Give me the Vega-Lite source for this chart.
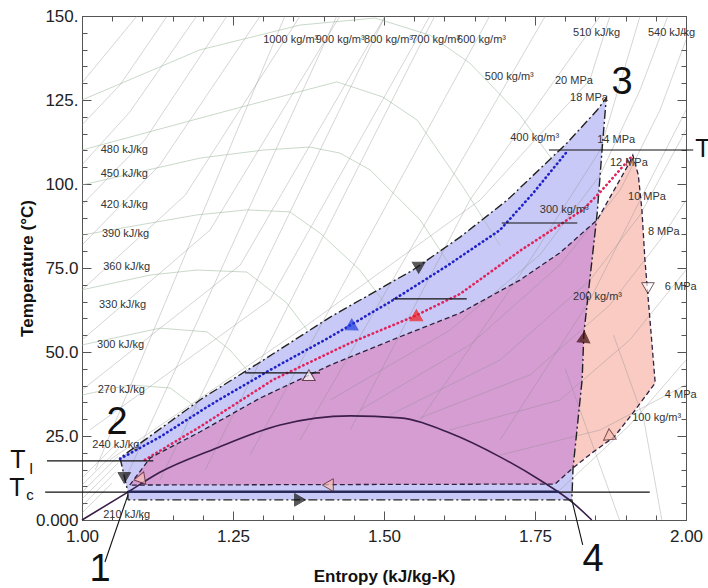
{
"$schema": "https://vega.github.io/schema/vega-lite/v6.json",
"width": 604, "height": 504,
"autosize": {"type": "none"},
"padding": {"left": 82, "top": 16, "right": 22, "bottom": 68},
"background": "white",
"config": {"font": "Liberation Sans", "view": {"stroke": "#555", "strokeWidth": 1}},
"datasets": {
"blue": [
{"i":1,"s":1.076,"T":6.0},{"i":2,"s":1.076,"T":8.3},{"i":3,"s":1.063,"T":18.5},{"i":4,"s":1.200,"T":36.3},{"i":5,"s":1.295,"T":47.0},{"i":6,"s":1.411,"T":60.4},{"i":7,"s":1.548,"T":74.4},{"i":8,"s":1.626,"T":84.2},{"i":9,"s":1.704,"T":95.2},{"i":10,"s":1.803,"T":112.2},{"i":11,"s":1.853,"T":122.0},{"i":12,"s":1.868,"T":125.6},{"i":13,"s":1.861,"T":110.1},{"i":14,"s":1.853,"T":91.4},{"i":15,"s":1.831,"T":55.7},{"i":16,"s":1.828,"T":41.7},{"i":17,"s":1.813,"T":15.5},{"i":18,"s":1.811,"T":6.0},{"i":19,"s":1.076,"T":6.0}
],
"salmon": [
{"i":1,"s":1.079,"T":10.4},{"i":2,"s":1.113,"T":18.5},{"i":3,"s":1.195,"T":26.2},{"i":4,"s":1.295,"T":36.3},{"i":5,"s":1.411,"T":46.1},{"i":6,"s":1.526,"T":54.5},{"i":7,"s":1.626,"T":61.6},{"i":8,"s":1.725,"T":71.4},{"i":9,"s":1.791,"T":79.5},{"i":10,"s":1.853,"T":89.3},{"i":11,"s":1.907,"T":106.5},{"i":12,"s":1.912,"T":108.6},{"i":13,"s":1.921,"T":102.7},{"i":14,"s":1.927,"T":92.3},{"i":15,"s":1.932,"T":77.4},{"i":16,"s":1.939,"T":62.5},{"i":17,"s":1.949,"T":40.8},{"i":18,"s":1.912,"T":31.8},{"i":19,"s":1.881,"T":24.7},{"i":20,"s":1.846,"T":20.2},{"i":21,"s":1.813,"T":15.5},{"i":22,"s":1.783,"T":10.7},{"i":23,"s":1.079,"T":10.4}
],
"magenta": [
{"i":1,"s":1.079,"T":10.4},{"i":2,"s":1.113,"T":18.5},{"i":3,"s":1.195,"T":26.2},{"i":4,"s":1.295,"T":36.3},{"i":5,"s":1.411,"T":46.1},{"i":6,"s":1.526,"T":54.5},{"i":7,"s":1.626,"T":61.6},{"i":8,"s":1.725,"T":71.4},{"i":9,"s":1.791,"T":79.5},{"i":10,"s":1.852,"T":89.2},{"i":11,"s":1.831,"T":55.7},{"i":12,"s":1.828,"T":41.7},{"i":13,"s":1.813,"T":15.5},{"i":14,"s":1.783,"T":10.7},{"i":15,"s":1.079,"T":10.4}
],
"bluedot": [
{"s":1.063,"T":18.2},{"s":1.129,"T":24.7},{"s":1.212,"T":34.2},{"s":1.311,"T":44.6},{"s":1.411,"T":54.5},{"s":1.510,"T":64.9},{"s":1.604,"T":75.6},{"s":1.692,"T":86.3},{"s":1.747,"T":97.3},{"s":1.801,"T":109.2}
],
"reddot": [
{"s":1.104,"T":17.9},{"s":1.195,"T":27.7},{"s":1.316,"T":41.7},{"s":1.444,"T":52.7},{"s":1.551,"T":60.7},{"s":1.626,"T":67.3},{"s":1.725,"T":80.1},{"s":1.829,"T":92.3},{"s":1.858,"T":97.6},{"s":1.912,"T":108.6}
],
"sat": [
{"s":1.000,"T":0},{"s":1.076,"T":8.3},{"s":1.129,"T":14.2},{"s":1.217,"T":21.0},{"s":1.328,"T":28.3},{"s":1.444,"T":31.0},{"s":1.526,"T":30.4},{"s":1.609,"T":25.9},{"s":1.692,"T":18.8},{"s":1.758,"T":11.9},{"s":1.813,"T":5.1},{"s":1.844,"T":0}
],
"iso": [
{"g":"A1","s":1.000,"T":130.1},{"g":"A1","s":1.091,"T":150},
{"g":"A2","s":1.000,"T":117.6},{"g":"A2","s":1.063,"T":129.5},{"g":"A2","s":1.141,"T":150},
{"g":"A3","s":1.000,"T":105.7},{"g":"A3","s":1.079,"T":121.4},{"g":"A3","s":1.190,"T":150},
{"g":"A4","s":1.000,"T":93.8},{"g":"A4","s":1.104,"T":113.1},{"g":"A4","s":1.240,"T":150},
{"g":"A5","s":1.000,"T":81.8},{"g":"A5","s":1.129,"T":105.7},{"g":"A5","s":1.295,"T":150},
{"g":"A6","s":1.000,"T":68.5},{"g":"A6","s":1.171,"T":96.7},{"g":"A6","s":1.361,"T":150},
{"g":"A7","s":1.000,"T":53.6},{"g":"A7","s":1.212,"T":86.3},{"g":"A7","s":1.427,"T":150},
{"g":"A8","s":1.000,"T":38.7},{"g":"A8","s":1.262,"T":75.9},{"g":"A8","s":1.502,"T":150},
{"g":"A9","s":1.013,"T":26.8},{"g":"A9","s":1.311,"T":65.5},{"g":"A9","s":1.576,"T":150},
{"g":"A10","s":1.046,"T":17.9},{"g":"A10","s":1.361,"T":56.5},{"g":"A10","s":1.659,"T":95.2},{"g":"A10","s":1.841,"T":131.0},{"g":"A10","s":1.874,"T":150},
{"g":"B14","s":1.411,"T":35.7},{"g":"B14","s":1.609,"T":56.5},{"g":"B14","s":1.758,"T":78.9},{"g":"B14","s":1.858,"T":102.7},{"g":"B14","s":1.924,"T":128.0},{"g":"B14","s":1.970,"T":150},
{"g":"B12","s":1.460,"T":32.7},{"g":"B12","s":1.642,"T":52.1},{"g":"B12","s":1.791,"T":75.9},{"g":"B12","s":1.891,"T":98.2},{"g":"B12","s":1.957,"T":122.0},{"g":"B12","s":2.000,"T":142.9},
{"g":"B10","s":1.510,"T":31.3},{"g":"B10","s":1.692,"T":47.6},{"g":"B10","s":1.841,"T":71.4},{"g":"B10","s":1.924,"T":90.8},{"g":"B10","s":2.000,"T":116.1},
{"g":"B8","s":1.560,"T":30.4},{"g":"B8","s":1.742,"T":43.2},{"g":"B8","s":1.874,"T":64.0},{"g":"B8","s":1.957,"T":83.3},{"g":"B8","s":2.000,"T":95.2},
{"g":"B6","s":1.609,"T":26.8},{"g":"B6","s":1.791,"T":35.7},{"g":"B6","s":1.907,"T":53.6},{"g":"B6","s":2.000,"T":74.4},
{"g":"B4","s":1.692,"T":19.3},{"g":"B4","s":1.858,"T":26.8},{"g":"B4","s":2.000,"T":40.2},
{"g":"I1","s":1.022,"T":14.9},{"g":"I1","s":1.336,"T":150},
{"g":"I2","s":1.071,"T":11.9},{"g":"I2","s":1.422,"T":150},
{"g":"I3","s":1.129,"T":11.9},{"g":"I3","s":1.502,"T":150},
{"g":"I4","s":1.204,"T":14.9},{"g":"I4","s":1.584,"T":150},
{"g":"I5","s":1.278,"T":19.3},{"g":"I5","s":1.675,"T":150},
{"g":"I6","s":1.361,"T":23.8},{"g":"I6","s":1.767,"T":150},
{"g":"I7","s":1.444,"T":26.8},{"g":"I7","s":1.642,"T":95.2},{"g":"I7","s":1.858,"T":150},
{"g":"I8","s":1.560,"T":29.8},{"g":"I8","s":1.742,"T":77.4},{"g":"I8","s":1.858,"T":110.1},{"g":"I8","s":1.924,"T":150},
{"g":"I9","s":1.692,"T":23.8},{"g":"I9","s":1.841,"T":65.5},{"g":"I9","s":1.924,"T":95.2},{"g":"I9","s":2.000,"T":122.0},
{"g":"I10","s":1.791,"T":8.9},{"g":"I10","s":1.907,"T":28.3},{"g":"I10","s":2.000,"T":47.6},
{"g":"D8","s":1.800,"T":45},{"g":"D8","s":1.850,"T":20},{"g":"D8","s":1.890,"T":0},
{"g":"D9","s":1.880,"T":55},{"g":"D9","s":1.930,"T":30},{"g":"D9","s":1.960,"T":0},
{"g":"H1","s":1.000,"T":12.5},{"g":"H1","s":1.060,"T":23.2},
{"g":"H2","s":1.000,"T":10.4},{"g":"H2","s":1.060,"T":21.1},
{"g":"H3","s":1.000,"T":8.3},{"g":"H3","s":1.060,"T":19.0},
{"g":"H4","s":1.000,"T":6.25},{"g":"H4","s":1.060,"T":17.0},
{"g":"H5","s":1.000,"T":4.2},{"g":"H5","s":1.056,"T":14.3},
{"g":"H6","s":1.000,"T":2.1},{"g":"H6","s":1.050,"T":11.0}
],
"dome": [
{"g":"c1","s":1.000,"T":125.0},{"g":"c1","s":1.195,"T":139.9},{"g":"c1","s":1.361,"T":147.3},{"g":"c1","s":1.485,"T":149.4},{"g":"c1","s":1.576,"T":144.3},{"g":"c1","s":1.642,"T":136.0},{"g":"c1","s":1.725,"T":120.5},{"g":"c1","s":1.791,"T":104.2},
{"g":"c2","s":1.000,"T":110.1},{"g":"c2","s":1.245,"T":122.0},{"g":"c2","s":1.422,"T":130.4},{"g":"c2","s":1.498,"T":125.9},{"g":"c2","s":1.555,"T":119.0},{"g":"c2","s":1.631,"T":99.1},{"g":"c2","s":1.692,"T":81.8},
{"g":"c3","s":1.000,"T":99.7},{"g":"c3","s":1.195,"T":107.7},{"g":"c3","s":1.300,"T":110.1},{"g":"c3","s":1.377,"T":111.0},{"g":"c3","s":1.427,"T":109.2},{"g":"c3","s":1.477,"T":104.2},{"g":"c3","s":1.560,"T":89.3},{"g":"c3","s":1.609,"T":75.9},
{"g":"c4","s":1.000,"T":84.8},{"g":"c4","s":1.190,"T":90.8},{"g":"c4","s":1.273,"T":92.3},{"g":"c4","s":1.344,"T":91.7},{"g":"c4","s":1.394,"T":85.4},{"g":"c4","s":1.460,"T":74.4},{"g":"c4","s":1.510,"T":62.5},
{"g":"c5","s":1.000,"T":68.5},{"g":"c5","s":1.113,"T":72.9},{"g":"c5","s":1.190,"T":74.4},{"g":"c5","s":1.273,"T":73.8},{"g":"c5","s":1.339,"T":64.6},{"g":"c5","s":1.373,"T":56.5},
{"g":"c6","s":1.000,"T":52.1},{"g":"c6","s":1.129,"T":57.1},{"g":"c6","s":1.207,"T":56.0},{"g":"c6","s":1.245,"T":50.6},{"g":"c6","s":1.283,"T":42.6},
{"g":"c7","s":1.000,"T":37.2},{"g":"c7","s":1.079,"T":40.2},{"g":"c7","s":1.146,"T":39.3},{"g":"c7","s":1.195,"T":32.7}
],
"rules": [
{"s":0.942,"s2":1.118,"T":17.6},{"s":0.939,"s2":1.940,"T":8.3},{"s":1.773,"s2":2.012,"T":110.1},
{"s":1.270,"s2":1.394,"T":43.8},{"s":1.515,"s2":1.637,"T":65.8},{"s":1.695,"s2":1.820,"T":88.4}
],
"thick": [{"s":1.076,"s2":1.790,"T":8.4}],
"conn": [
{"s":1.076,"s2":1.038,"T":7.4,"T2":-12.5},{"s":1.811,"s2":1.829,"T":6.0,"T2":-7.4}
],
"tri": [
{"s":1.070,"T":12.5,"k":"black","dir":90},
{"s":1.099,"T":12.8,"k":"salmon","dir":290},
{"s":1.407,"T":10.4,"k":"salmon","dir":180},
{"s":1.361,"T":6.0,"k":"black","dir":0},
{"s":1.373,"T":42.3,"k":"white","dir":150},
{"s":1.444,"T":57.4,"k":"blue","dir":150},
{"s":1.551,"T":60.1,"k":"red","dir":150},
{"s":1.560,"T":75.9,"k":"black","dir":330},
{"s":1.831,"T":54.5,"k":"maroon","dir":275},
{"s":1.937,"T":69.0,"k":"white","dir":90},
{"s":1.871,"T":24.7,"k":"salmon","dir":145}
],
"labels": [
{"s":1.031,"T":110.1,"text":"480 kJ/kg"},{"s":1.031,"T":103.0,"text":"450 kJ/kg"},{"s":1.031,"T":93.75,"text":"420 kJ/kg"},{"s":1.033,"T":85.1,"text":"390 kJ/kg"},{"s":1.035,"T":75.3,"text":"360 kJ/kg"},{"s":1.028,"T":64.0,"text":"330 kJ/kg"},{"s":1.025,"T":52.1,"text":"300 kJ/kg"},{"s":1.026,"T":38.7,"text":"270 kJ/kg"},{"s":1.017,"T":22.3,"text":"240 kJ/kg"},{"s":1.035,"T":1.5,"text":"210 kJ/kg"},
{"s":1.813,"T":144.9,"text":"510 kJ/kg"},{"s":1.937,"T":144.9,"text":"540 kJ/kg"},
{"s":1.300,"T":142.9,"text":"1000 kg/m³"},{"s":1.387,"T":142.9,"text":"900 kg/m³"},{"s":1.467,"T":142.9,"text":"800 kg/m³"},{"s":1.545,"T":142.9,"text":"700 kg/m³"},{"s":1.621,"T":142.9,"text":"600 kg/m³"},
{"s":1.667,"T":131.8,"text":"500 kg/m³"},{"s":1.709,"T":113.7,"text":"400 kg/m³"},{"s":1.758,"T":92.3,"text":"300 kg/m³"},{"s":1.813,"T":66.4,"text":"200 kg/m³"},{"s":1.911,"T":30.4,"text":"100 kg/m³"},
{"s":1.783,"T":130.7,"text":"20 MPa"},{"s":1.808,"T":125.6,"text":"18 MPa"},{"s":1.853,"T":113.1,"text":"14 MPa"},{"s":1.874,"T":106.25,"text":"12 MPa"},{"s":1.904,"T":96.1,"text":"10 MPa"},{"s":1.937,"T":85.7,"text":"8 MPa"},{"s":1.965,"T":69.3,"text":"6 MPa"},{"s":1.965,"T":37.2,"text":"4 MPa"}
],
"nums": [
{"s":1.030,"T":-14.9,"text":"1"},{"s":1.058,"T":28.9,"text":"2"},{"s":1.894,"T":130.1,"text":"3"},{"s":1.846,"T":-11.9,"text":"4"}
],
"tl": [
{"s":0.894,"T":17.9,"text":"T"},{"s":0.892,"T":9.5,"text":"T"},{"s":2.028,"T":110.4,"text":"T"}
],
"subs": [
{"s":0.916,"T":15.3,"text":"l"},{"s":0.914,"T":7.4,"text":"c"}
]
},
"encoding": {
"x": {"field": "s", "type": "quantitative", "scale": {"domain": [1, 2], "nice": false, "zero": false}, "axis": null},
"y": {"field": "T", "type": "quantitative", "scale": {"domain": [0, 150], "nice": false, "zero": false}, "axis": null}
},
"layer": [
{
"data": {"name": "blue"},
"mark": {"type": "line", "filled": true, "fill": "#c9c9f7", "strokeWidth": 0},
"encoding": {
"x": {"field": "s", "type": "quantitative", "scale": {"domain": [1, 2], "nice": false, "zero": false},
"axis": {"orient": "bottom", "values": [1,1.05,1.1,1.15,1.2,1.25,1.3,1.35,1.4,1.45,1.5,1.55,1.6,1.65,1.7,1.75,1.8,1.85,1.9,1.95,2],
"labelExpr": "round(datum.value*100)%25==0 ? format(datum.value,'.2f') : ''",
"tickSize": {"condition": {"test": "round(datum.value*100)%25==0", "value": -9}, "value": -5},
"tickColor": "#555", "domainColor": "#555", "grid": false, "labelOverlap": false, "labelFlush": false,
"labelFontSize": 17, "labelColor": "#222", "labelPadding": 17,
"title": "Entropy (kJ/kg-K)", "titleFontSize": 17, "titleFontWeight": "bold", "titleColor": "#111", "titlePadding": 20}},
"y": {"field": "T", "type": "quantitative", "scale": {"domain": [0, 150], "nice": false, "zero": false},
"axis": {"orient": "left", "values": [0,5,10,15,20,25,30,35,40,45,50,55,60,65,70,75,80,85,90,95,100,105,110,115,120,125,130,135,140,145,150],
"labelExpr": "datum.value==0 ? '0.000' : (datum.value%25!=0 ? '' : (datum.value>=100 ? format(datum.value,'d')+'.' : format(datum.value,'.1f')))",
"tickSize": {"condition": {"test": "datum.value%25==0", "value": -9}, "value": -5},
"tickColor": "#555", "domainColor": "#555", "grid": false, "labelOverlap": false, "labelFlush": false,
"labelFontSize": 17, "labelColor": "#222", "labelPadding": 13,
"title": "Temperature (°C)", "titleFontSize": 17, "titleFontWeight": "bold", "titleColor": "#111", "titlePadding": -1}},
"order": {"field": "i", "type": "quantitative"}
}
},
{
"data": {"name": "salmon"},
"mark": {"type": "line", "filled": true, "fill": "#f9cbc3", "strokeWidth": 0},
"encoding": {"order": {"field": "i", "type": "quantitative"}}
},
{
"data": {"name": "magenta"},
"mark": {"type": "line", "filled": true, "fill": "#d69dd3", "strokeWidth": 0},
"encoding": {"order": {"field": "i", "type": "quantitative"}}
},
{
"data": {"name": "iso"},
"mark": {"type": "line", "stroke": "#8a8a8a", "strokeOpacity": 0.45, "strokeWidth": 0.8, "clip": true},
"encoding": {"detail": {"field": "g"}}
},
{
"data": {"name": "dome"},
"mark": {"type": "line", "stroke": "#9ab89a", "strokeOpacity": 0.6, "strokeWidth": 0.9, "clip": true},
"encoding": {"detail": {"field": "g"}}
},
{
"data": {"name": "sat"},
"mark": {"type": "line", "stroke": "#3b1f4a", "strokeWidth": 1.6, "interpolate": "monotone"},
"encoding": {
"x": {"field": "s", "type": "quantitative", "scale": {"domain": [1, 2], "nice": false, "zero": false},
"axis": {"orient": "top", "values": [1,1.05,1.1,1.15,1.2,1.25,1.3,1.35,1.4,1.45,1.5,1.55,1.6,1.65,1.7,1.75,1.8,1.85,1.9,1.95,2], "labels": false, "title": null, "grid": false,
"tickSize": {"condition": {"test": "round(datum.value*100)%25==0", "value": -9}, "value": -5}, "tickColor": "#555", "domainColor": "#555"}},
"y": {"field": "T", "type": "quantitative", "scale": {"domain": [0, 150], "nice": false, "zero": false},
"axis": {"orient": "right", "values": [0,5,10,15,20,25,30,35,40,45,50,55,60,65,70,75,80,85,90,95,100,105,110,115,120,125,130,135,140,145,150], "labels": false, "title": null, "grid": false,
"tickSize": {"condition": {"test": "datum.value%25==0", "value": -9}, "value": -5}, "tickColor": "#555", "domainColor": "#555"}}
}
},
{
"data": {"name": "blue"},
"mark": {"type": "line", "stroke": "#222", "strokeWidth": 1.4, "strokeDash": [9, 3, 2, 3]},
"encoding": {"order": {"field": "i", "type": "quantitative"}}
},
{
"data": {"name": "bluedot"},
"mark": {"type": "line", "stroke": "#1f22c8", "strokeWidth": 2.6, "strokeDash": [0.5, 4], "strokeCap": "round"}
},
{
"data": {"name": "reddot"},
"mark": {"type": "line", "stroke": "#e0245c", "strokeWidth": 2.6, "strokeDash": [0.5, 4], "strokeCap": "round"}
},
{
"data": {"name": "salmon"},
"mark": {"type": "line", "stroke": "#2a2240", "strokeWidth": 1.3, "strokeDash": [5, 3]},
"encoding": {"order": {"field": "i", "type": "quantitative"}}
},
{
"data": {"name": "rules"},
"mark": {"type": "rule", "stroke": "#111", "strokeWidth": 1.1},
"encoding": {"x2": {"field": "s2"}}
},
{
"data": {"name": "thick"},
"mark": {"type": "rule", "stroke": "#2a2a5a", "strokeWidth": 2.4},
"encoding": {"x2": {"field": "s2"}}
},
{
"data": {"name": "conn"},
"mark": {"type": "rule", "stroke": "#111", "strokeWidth": 1.1},
"encoding": {"x2": {"field": "s2"}, "y2": {"field": "T2"}}
},
{
"data": {"name": "tri"},
"mark": {"type": "point", "shape": "triangle-right", "filled": true, "size": 160, "strokeWidth": 1},
"encoding": {
"angle": {"field": "dir", "type": "quantitative", "scale": {"domain": [0, 360], "range": [0, 360]}},
"fill": {"field": "k", "type": "nominal", "legend": null, "scale": {"domain": ["black","salmon","white","blue","red","maroon"], "range": ["#111111","#f7c0b5","#ffffff","#1a3ae0","#f01818","#3a0808"]}},
"stroke": {"field": "k", "type": "nominal", "legend": null, "scale": {"domain": ["black","salmon","white","blue","red","maroon"], "range": ["#111111","#4a1a1a","#3a1a1a","#1a3ae0","#f01818","#3a0808"]}},
"fillOpacity": {"value": 1}
}
},
{
"data": {"name": "labels"},
"mark": {"type": "text", "align": "left", "baseline": "middle", "fontSize": 11, "color": "#333"},
"encoding": {"text": {"field": "text"}}
},
{
"data": {"name": "nums"},
"mark": {"type": "text", "align": "center", "baseline": "middle", "fontSize": 38, "color": "#111"},
"encoding": {"text": {"field": "text"}}
},
{
"data": {"name": "tl"},
"mark": {"type": "text", "align": "center", "baseline": "middle", "fontSize": 25, "color": "#111"},
"encoding": {"text": {"field": "text"}}
},
{
"data": {"name": "subs"},
"mark": {"type": "text", "align": "center", "baseline": "middle", "fontSize": 15, "color": "#111"},
"encoding": {"text": {"field": "text"}}
}
]
}
